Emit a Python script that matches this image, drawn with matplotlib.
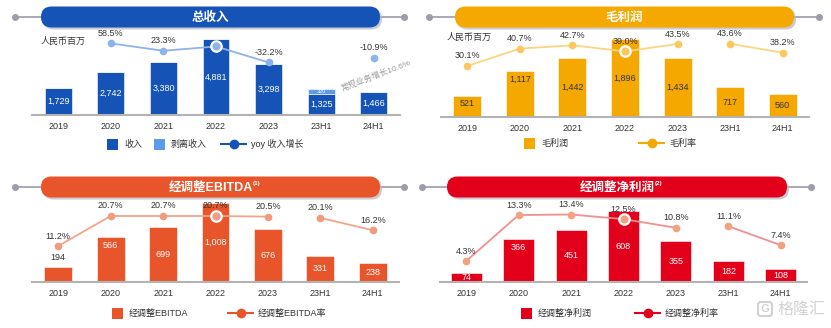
import numpy as np
import matplotlib
matplotlib.use('Agg')
import matplotlib.pyplot as plt
from matplotlib.patches import FancyBboxPatch, Rectangle

# data (RMB million / %)
periods = ['2019', '2020', '2021', '2022', '2023', '23H1', '24H1']
revenue = [1729, 2742, 3380, 4881, 3298, 1325, 1466]
divested_revenue = [0, 0, 0, 0, 0, 320, 0]
revenue_yoy = [np.nan, 58.5, 23.3, 43.8, -32.2, np.nan, -10.9]
gross_profit = [521, 1117, 1442, 1896, 1434, 717, 560]
gross_margin = [30.1, 40.7, 42.7, 39.0, 43.5, 43.6, 38.2]
adj_ebitda = [194, 566, 699, 1008, 676, 331, 238]
adj_ebitda_margin = [11.2, 20.7, 20.7, 20.7, 20.5, 20.1, 16.2]
adj_net_profit = [74, 366, 451, 608, 355, 182, 108]
adj_net_margin = [4.3, 13.3, 13.4, 12.5, 10.8, 11.1, 7.4]

W, H = 831, 328
BLUE = '#1554b6'
LBLUE = '#5d9be9'
ORANGE = '#f5a800'
EBITDA_C = '#e8552a'
RED = '#e3001b'
GREY_TXT = '#333333'

plt.rcParams['font.family'] = ['Liberation Sans', 'Noto Sans CJK SC']

fig = plt.figure(figsize=(W / 100, H / 100), dpi=100)
deco = fig.add_axes([0, 0, 1, 1])
deco.set_xlim(0, W)
deco.set_ylim(H, 0)
deco.axis('off')


def px_axes(x0, x1, yb, yt):
    return fig.add_axes([x0 / W, (H - yb) / H, (x1 - x0) / W, (yb - yt) / H])


def header(lx0, lx1, y, px0, px1, color, title, sup=None):
    deco.plot([lx0, lx1], [y, y], color='#9c9cac', lw=1.2, zorder=1)
    deco.plot([lx0, lx1], [y, y], 'o', color='#9c9cac', ms=4, zorder=1)
    h = 21
    deco.add_patch(FancyBboxPatch((px0 + 2, y - h / 2 + 2), px1 - px0, h,
                                  boxstyle='round,pad=0,rounding_size=10.5',
                                  fc='#b5b5be', ec='none', alpha=0.7, zorder=2))
    deco.add_patch(FancyBboxPatch((px0, y - h / 2), px1 - px0, h,
                                  boxstyle='round,pad=0,rounding_size=10.5',
                                  fc=color, ec='none', zorder=3))
    t = deco.text((px0 + px1) / 2, y + 0.5, title, color='white', fontsize=9,
                  fontweight='bold', ha='center', va='center', zorder=4)
    if sup:
        deco.annotate(sup, xy=(1, 0.8), xycoords=t, fontsize=4.5, color='white',
                      fontweight='bold', ha='left', va='center', zorder=4)


def panel(box, bar_max, rate_lim, values, rates, bar_color, width, val_color,
          label_pos, line_color, dot_color, hl_pct_color=GREY_TXT):
    ax = px_axes(*box)
    x = np.arange(len(periods))
    ax.bar(x, values, width, color=bar_color, edgecolor='white', linewidth=0.4, zorder=2)
    ax.set_xlim(-0.5, len(periods) - 0.5)
    ax.set_ylim(0, bar_max)
    for s in ['top', 'left', 'right']:
        ax.spines[s].set_visible(False)
    ax.spines['bottom'].set_color('#b3b3b3')
    ax.spines['bottom'].set_linewidth(1.5)
    ax.spines['bottom'].set_zorder(3)
    ax.set_xticks(x, periods)
    ax.set_yticks([])
    ax.tick_params(axis='x', length=0, pad=5, labelsize=6.5, labelcolor=GREY_TXT)
    ax.patch.set_alpha(0)

    for i, v in enumerate(values):
        pos = label_pos[i]
        if pos == 'c':
            ax.text(i, v / 2, f'{v:,}', ha='center', va='center', fontsize=6.5,
                    color=val_color, zorder=4)
        elif pos == 't':
            ax.annotate(f'{v:,}', (i, v), xytext=(0, -8), textcoords='offset pixels',
                        ha='center', va='center', fontsize=6.5, color=val_color, zorder=4)
        else:
            ax.annotate(f'{v:,}', (i, v), xytext=(0, 9), textcoords='offset pixels',
                        ha='center', va='center', fontsize=6.5, color=GREY_TXT, zorder=4)

    ax2 = ax.twinx()
    ax2.set_ylim(*rate_lim)
    ax2.axis('off')
    r = np.array(rates, dtype=float)
    for seg in (slice(0, 5), slice(5, 7)):
        ax2.plot(x[seg], r[seg], color=line_color, lw=1.3, marker='o', ms=4.5,
                 mfc=dot_color, mec=dot_color, zorder=3)
    ax2.plot(x[3], r[3], 'o', ms=7.5, mfc=dot_color, mec='white', mew=1.6, zorder=4)
    for i, v in enumerate(r):
        if np.isnan(v):
            continue
        ax2.annotate(f'{v:.1f}%', (i, v), xytext=(0, 10), textcoords='offset pixels',
                     ha='center', va='center', fontsize=6.5,
                     color=hl_pct_color if i == 3 else GREY_TXT, zorder=5)
    return ax, ax2


# headers
header(15, 404, 17, 41, 380, BLUE, '总收入')
header(429, 819, 17, 455, 794, ORANGE, '毛利润')
header(15, 404, 187, 41, 380, EBITDA_C, '经调整EBITDA', '(1)')
header(422, 811, 187, 447, 787, RED, '经调整净利润', '(2)')

# total revenue
ax, ax2 = panel((32, 400, 115, 35), 5136, (-282.5, 98.4), revenue, revenue_yoy,
                BLUE, 0.51, 'white', ['c'] * 7, '#8db3ec', '#8db3ec', 'white')
ax.bar(np.arange(len(periods)), divested_revenue, 0.51, bottom=revenue,
       color=LBLUE, edgecolor='white', linewidth=0.4, zorder=2)
for i, v in enumerate(divested_revenue):
    if v:
        ax.text(i, revenue[i] + v / 2, f'{v:,}', ha='center', va='center',
                fontsize=4, color='white', zorder=4)

# gross profit
panel((441, 809, 117, 35), 1993, (-1.01, 48.99), gross_profit, gross_margin,
      ORANGE, 0.53, GREY_TXT, ['t', 't', 'c', 'c', 'c', 'c', 'c'], '#fcd582', '#fcc75e')

# adjusted EBITDA
panel((32, 399, 282, 200), 1041, (-0.19, 25.76), adj_ebitda, adj_ebitda_margin,
      EBITDA_C, 0.53, 'white', ['a', 't', 'c', 'c', 'c', 'c', 'c'], '#f4a48b', '#f19c80')

# adjusted net profit
panel((440, 807, 282, 200), 705, (0.19, 16.24), adj_net_profit, adj_net_margin,
      RED, 0.59, 'white', ['c', 't', 'c', 'c', 'c', 'c', 'c'], '#f38e8e', '#f3a27f')

# unit labels and note
deco.text(41, 41, '人民币百万', fontsize=6.5, color=GREY_TXT, ha='left', va='center')
deco.text(447, 37, '人民币百万', fontsize=6.5, color=GREY_TXT, ha='left', va='center')
deco.text(376, 76, '常规业务增长10.6%', rotation=21, color='#9a9a9a', fontsize=6,
          ha='center', va='center')


# legends
def leg_box(x, y, color, label):
    deco.add_patch(Rectangle((x, y - 5.5), 11, 11, fc=color, ec='none'))
    deco.text(x + 17, y, label, fontsize=6.5, color=GREY_TXT, ha='left', va='center')


def leg_line(x, y, color, label, mfc=None):
    deco.plot([x, x + 25], [y, y], color=color, lw=1.5)
    deco.plot([x + 12.5], [y], 'o', ms=6, color=color, mfc=mfc or color)
    deco.text(x + 30, y, label, fontsize=6.5, color=GREY_TXT, ha='left', va='center')


leg_box(107, 144, BLUE, '收入')
leg_box(154, 144, LBLUE, '剥离收入')
leg_line(221, 144, BLUE, 'yoy 收入增长')
leg_box(524, 143, ORANGE, '毛利润')
leg_line(639, 143, ORANGE, '毛利率')
leg_box(112, 313, EBITDA_C, '经调整EBITDA')
leg_line(228, 313, EBITDA_C, '经调整EBITDA率')
leg_box(521, 313, RED, '经调整净利润')
leg_line(635, 313, RED, '经调整净利率')

# watermark
deco.add_patch(FancyBboxPatch((758, 302), 14, 14, boxstyle='round,pad=0,rounding_size=3',
                              fc='none', ec='#d2d2d2', lw=1.5))
deco.text(765, 309.5, 'G', fontsize=8, color='#d2d2d2', ha='center', va='center',
          fontweight='bold')
deco.text(801, 309.5, '格隆汇', fontsize=11.5, color='#d2d2d2', ha='center', va='center')

fig.savefig('out.png', dpi=100)
